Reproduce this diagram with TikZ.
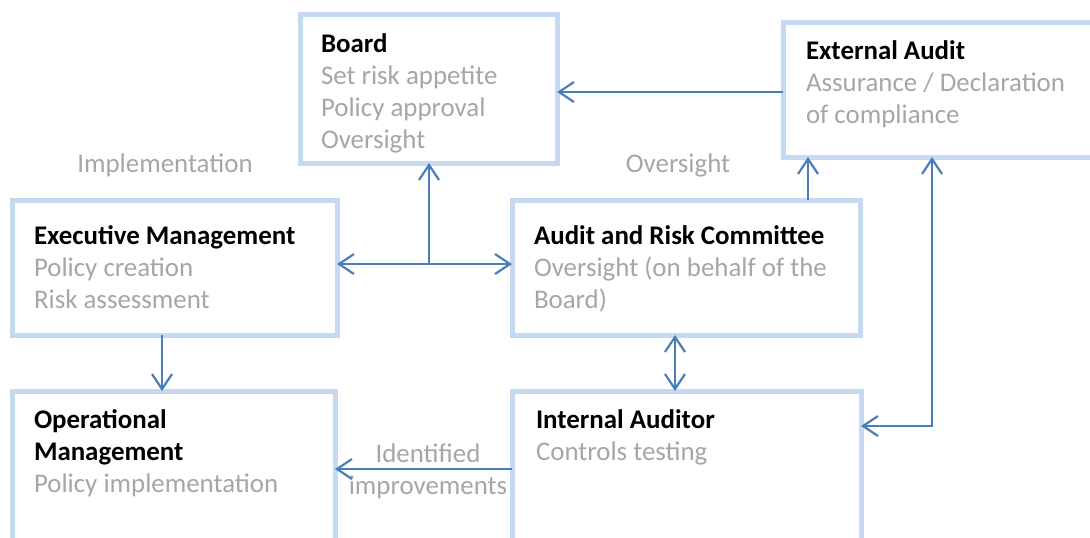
\documentclass[tikz,border=0pt]{standalone}
\usepackage{fontspec}
\setmainfont{Carlito}
\usetikzlibrary{arrows.meta,fit}
\definecolor{boxblue}{RGB}{198,217,241}
\definecolor{arrblue}{RGB}{74,126,187}
\definecolor{txtgray}{RGB}{166,166,166}
\tikzset{
  box/.style={draw=boxblue, line width=2.5pt, inner sep=0pt, outer sep=0pt, fill=white},
  txt/.style={inner sep=0pt, outer sep=0pt, align=left, text=txtgray, font=\fontsize{13.45}{16}\selectfont},
  lbl/.style={inner sep=0pt, outer sep=0pt, align=center, text=txtgray, font=\fontsize{13.45}{16}\selectfont},
  arr/.style={draw=arrblue, line width=1.1pt, -{Straight Barb[length=7.5pt,width=10pt]}},
  arrboth/.style={draw=arrblue, line width=1.1pt, {Straight Barb[length=7.5pt,width=10pt]}-{Straight Barb[length=7.5pt,width=10pt]}},
}
\newcommand{\ttl}[1]{\textcolor{black}{\bfseries #1}}
\begin{document}
\begin{tikzpicture}[x=0.5pt,y=-0.5pt]
\useasboundingbox (0,0) rectangle (1090,537);
\clip (0,0) rectangle (1090,537);
% boxes
\node[box, fit={(300,14) (557,163)}] (board) {};
\node[box, fit={(783,22) (1110,157)}] (ext) {};
\node[box, fit={(12,200) (337,335)}] (exec) {};
\node[box, fit={(512,200) (860,335)}] (arc) {};
\node[box, fit={(12,391) (335,570)}] (ops) {};
\node[box, fit={(512,391) (861,570)}] (ia) {};
% texts (anchored at the baseline of the last line)
\node[txt, anchor=base west] (boardtxt) at (321,148) {\ttl{Board}\\Set risk appetite\\Policy approval\\Oversight};
\node[txt, anchor=base west] (exttxt) at (806,123) {\ttl{External Audit}\\Assurance / Declaration\\of compliance};
\node[txt, anchor=base west] (exectxt) at (34,308) {\ttl{Executive Management}\\Policy creation\\Risk assessment};
\node[txt, anchor=base west] (arctxt) at (534,308) {\ttl{Audit and Risk Committee}\\Oversight (on behalf of the\\Board)};
\node[txt, anchor=base west] (opstxt) at (34,492) {\ttl{Operational}\\\ttl{Management}\\Policy implementation};
\node[txt, anchor=base west] (iatxt) at (536,460) {\ttl{Internal Auditor}\\Controls testing};
% labels
\node[lbl, anchor=base] (impl) at (165,172) {Implementation};
\node[lbl, anchor=base] (ovs) at (678,172) {Oversight};
\node[lbl, anchor=base] (idimp) at (428,494) {Identified\\improvements};
% connectors
\draw[arr] (ext.west |- 0,92) -- (board.east |- 0,92);
\coordinate (j) at (429,264);
\draw[arrboth] (exec.east |- j) -- (arc.west |- j);
\draw[arr] (j) -- (j |- board.south);
\draw[arr] (arc.north -| 808,0) -- (ext.south -| 808,0);
\coordinate (c1) at (932,426);
\draw[arrboth] (ia.east |- c1) -- (c1) -- (ext.south -| c1);
\draw[arrboth] (arc.south -| 675,0) -- (ia.north -| 675,0);
\draw[arr] (exec.south -| 162,0) -- (ops.north -| 162,0);
\draw[arr] (ia.west |- 0,469) -- (ops.east |- 0,469);
\end{tikzpicture}
\end{document}
